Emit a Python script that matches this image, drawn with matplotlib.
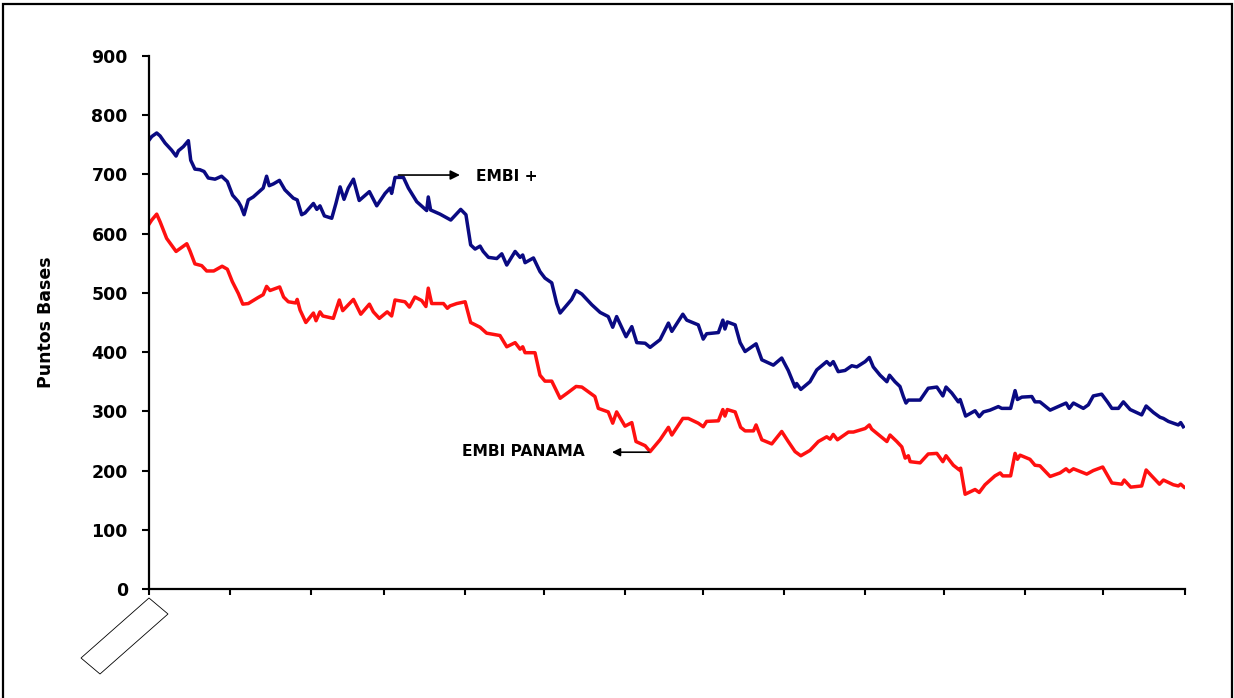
import matplotlib
matplotlib.use("Agg")
import matplotlib.pyplot as plt
import matplotlib.transforms as mtransforms
from matplotlib.patches import Polygon, Rectangle
import pandas as pd

# ---------------- data (days since 2002-12-01, spread in basis points) -------------
embi_days = [0, 1.2, 3.1, 4.4, 6.3, 8.8, 10.5, 11.4, 13.3, 15.2, 16.1, 17.7, 19.6, 21.2, 22.8,
             25.4, 27.9, 30.1, 32.1, 34.3, 35.3, 36.5, 37.5, 38.1, 40.0, 43.8, 45.1, 46.1, 47.7,
             50.0, 52.1, 55.3, 56.8, 58.5, 59.8, 63.0, 64.3, 65.5, 67.2, 70.0, 71.6, 73.2, 74.7,
             76.3, 78.3, 80.5, 84.4, 87.2, 90.4, 92.3, 92.9, 94.2, 97.4, 99.3, 102.5, 106.3,
             106.9, 107.8, 111.4, 115.5, 119.3, 121.3, 123.1, 124.8, 126.7, 127.9, 129.9, 133.1,
             135.0, 136.9, 140.1, 142.0, 143.0, 143.9, 147.1, 149.6, 151.5, 154.1, 156.0, 157.3,
             159.2, 161.7, 163.4, 165.6, 169.4, 172.6, 175.7, 177.4, 178.9, 182.5, 184.7, 186.6,
             189.8, 191.7, 195.5, 198.7, 200.0, 204.2, 205.7, 210.1, 212.0, 213.3, 217.8, 219.5,
             220.3, 221.2, 224.2, 226.1, 228.0, 232.2, 234.4, 238.8, 242.0, 244.5, 247.1, 247.7,
             249.3, 252.8, 255.4, 259.2, 260.5, 261.7, 263.6, 266.2, 268.8, 270.7, 273.9, 275.5,
             277.0, 279.6, 282.2, 283.2, 285.3, 287.2, 288.5, 289.5, 290.4, 294.9, 298.0, 301.3,
             303.6, 304.8, 307.0, 309.5, 310.2, 312.3, 315.9, 317.5, 319.1, 321.6, 324.8, 326.1,
             329.5, 331.2, 332.1, 333.8, 337.6, 338.8, 340.7, 344.6, 347.7, 350.7, 351.9, 353.5,
             357.3, 359.2, 361.1, 364.3, 366.5, 368.2, 370.7, 372.6, 375.2, 379.6, 381.3, 384.1,
             386.6, 387.9, 389.8, 393.6, 394.5, 395.5]
embi_vals = [757, 764, 770, 765, 753, 741, 731, 740, 747, 757, 724, 709, 708, 705, 694,
             692, 697, 688, 665, 654, 646, 632, 648, 657, 662, 677, 697, 681, 684,
             690, 674, 660, 657, 632, 635, 651, 641, 647, 630, 626, 651, 679, 658,
             677, 692, 656, 671, 647, 668, 677, 668, 695, 695, 677, 654, 639,
             662, 640, 633, 623, 641, 632, 581, 574, 579, 570, 560, 558,
             566, 547, 570, 560, 564, 551, 559, 536, 525, 517, 482, 466,
             476, 489, 504, 498, 480, 467, 460, 442, 460, 426, 443, 416,
             415, 408, 421, 449, 435, 464, 454, 446, 422, 431, 433, 454,
             439, 451, 446, 416, 401, 414, 387, 378, 390, 369, 341, 347,
             337, 350, 370, 384, 378, 384, 367, 369, 377, 375, 384, 391,
             375, 361, 350, 361, 350, 342, 325, 314, 319, 319, 339, 341,
             326, 341, 331, 316, 320, 292, 301, 291, 299, 302, 308, 305,
             305, 335, 320, 324, 325, 316, 316, 302, 308, 314, 305, 314,
             305, 311, 326, 329, 316, 305, 305, 316, 303, 294, 309, 298,
             290, 288, 283, 277, 281, 274]

panama_days = [0, 1.2, 3.1, 4.4, 6.9, 10.5, 14.6, 15.8, 17.7, 20.3, 22.2, 24.9, 28.1, 30.1,
               32.0, 34.3, 36.0, 38.1, 41.8, 43.8, 45.1, 46.4, 50.1, 51.6, 53.4, 56.2, 56.8,
               57.9, 60.1, 63.0, 64.0, 65.5, 66.6, 70.6, 72.9, 74.2, 78.3, 81.1, 84.4, 85.9,
               88.2, 91.2, 92.9, 94.2, 98.0, 99.7, 101.8, 104.4, 106.0, 106.9, 108.2, 112.7,
               114.2, 115.2, 117.8, 121.0, 123.1, 126.7, 129.2, 134.3, 136.9, 140.1, 142.0,
               143.0, 143.9, 147.7, 149.6, 151.5, 154.1, 157.3, 160.4, 163.4, 165.6, 170.6,
               171.9, 175.7, 177.4, 178.9, 182.1, 184.7, 186.3, 189.8, 191.7, 195.5, 198.7,
               200.0, 204.2, 206.3, 210.1, 212.0, 213.3, 217.8, 219.5, 220.3, 221.2, 224.2,
               226.3, 228.0, 231.2, 232.2, 234.4, 238.2, 242.0, 244.5, 247.1, 249.3, 252.8,
               254.1, 256.0, 259.2, 260.5, 261.7, 263.3, 267.5, 269.4, 273.9, 275.5, 276.4,
               282.2, 283.4, 286.0, 287.9, 289.2, 290.4, 291.1, 294.9, 298.0, 301.3, 303.6,
               304.8, 307.6, 309.9, 310.4, 312.1, 315.9, 317.5, 319.7, 323.5, 325.5, 326.5,
               329.5, 331.2, 332.1, 333.1, 336.9, 338.8, 340.7, 344.6, 348.4, 350.7, 351.9,
               353.5, 358.6, 361.1, 364.7, 368.2, 372.0, 372.9, 375.4, 379.6, 381.3, 383.4,
               386.4, 387.9, 391.7, 393.6, 394.5, 395.8]
panama_vals = [615, 623, 633, 620, 592, 570, 583, 571, 549, 546, 537, 537, 545, 540,
               519, 499, 481, 482, 492, 497, 511, 504, 510, 493, 485, 483, 489,
               471, 450, 466, 453, 468, 461, 457, 488, 470, 489, 464, 481, 468,
               457, 468, 461, 488, 485, 476, 493, 487, 477, 508, 482, 482,
               474, 478, 482, 485, 450, 442, 432, 428, 409, 416, 405,
               409, 399, 399, 361, 351, 351, 322, 332, 342, 341, 325,
               305, 299, 280, 299, 275, 281, 249, 242, 232, 252, 273,
               260, 288, 288, 280, 274, 283, 284, 303, 292, 303, 299,
               273, 267, 267, 277, 252, 245, 266, 249, 232, 225, 234,
               240, 249, 257, 253, 261, 252, 265, 265, 271, 277, 270,
               249, 260, 249, 240, 221, 225, 215, 213, 228, 229, 215,
               225, 209, 201, 204, 160, 168, 163, 176, 191, 196, 191,
               191, 229, 219, 226, 219, 209, 208, 190, 196, 203, 198,
               203, 194, 200, 206, 179, 177, 184, 172, 174, 201, 191,
               177, 184, 176, 174, 177, 172]

start_date = "2002-12-01"
y_ticks = [0, 100, 200, 300, 400, 500, 600, 700, 800, 900]
y_label = "Puntos Bases"
label_embi = "EMBI +"
label_panama = "EMBI PANAMA"

# ---------------- figure ----------------
W, H, DPI = 1234, 698, 100
fig = plt.figure(figsize=(W / DPI, H / DPI), dpi=DPI)
fig.patch.set_facecolor("white")

ax = fig.add_axes([148.6 / W, 1 - 589 / H, (1184.6 - 148.6) / W, (589 - 56) / H])

ax.plot(embi_days, embi_vals, color="#0a0a82", lw=2.5, solid_joinstyle="round")
ax.plot(panama_days, panama_vals, color="#ff1010", lw=2.5, solid_joinstyle="round")

month_starts = pd.date_range(start_date, periods=14, freq="MS")
xt = [(d - pd.Timestamp(start_date)).days for d in month_starts]
ax.set_xlim(xt[0], xt[-1])
ax.set_ylim(0, 900)
ax.set_xticks(xt)
ax.set_xticklabels([""] * len(xt))
ax.set_yticks(y_ticks)
ax.set_yticklabels([str(v) for v in y_ticks], fontsize=12.5, fontweight="bold",
                   family="DejaVu Sans")

for s in ["top", "right"]:
    ax.spines[s].set_visible(False)
for s in ["left", "bottom"]:
    ax.spines[s].set_linewidth(1.6)
ax.tick_params(axis="y", direction="out", length=5, width=1.5, pad=10)
ax.tick_params(axis="x", direction="out", length=4, width=1.5)

ax.set_ylabel(y_label, fontsize=12.5, fontweight="bold", family="DejaVu Sans", labelpad=26)

# annotations
ax.annotate("", xy=(119, 699), xytext=(95.5, 699),
            arrowprops=dict(arrowstyle="-|>", color="black", lw=1.2, mutation_scale=14,
                            shrinkA=0, shrinkB=0))
ax.text(125.2, 697, label_embi, fontsize=11.2, fontweight="bold", family="DejaVu Sans",
        ha="left", va="center")
ax.annotate("", xy=(177.1, 231), xytext=(191.3, 231),
            arrowprops=dict(arrowstyle="-|>", color="black", lw=1.2, mutation_scale=12,
                            shrinkA=0, shrinkB=0))
ax.text(166.8, 232, label_panama, fontsize=11.2, fontweight="bold", family="DejaVu Sans",
        ha="right", va="center")

# empty rotated label box under the first tick
box = Polygon([(0.4, -9), (19.4, -25), (-48.6, -85), (-67.6, -69)], closed=True,
              facecolor="white", edgecolor="black", lw=0.6,
              transform=mtransforms.Affine2D() + mtransforms.ScaledTranslation(0, 0, ax.transAxes),
              clip_on=False)
ax.add_artist(box)

# outer frame
frame = Rectangle((3 / W, -0.02), (1231.5 - 3) / W, 1.02 - 4 / H, transform=fig.transFigure,
                  fill=False, edgecolor="black", lw=1.6, clip_on=False)
fig.add_artist(frame)

fig.savefig("out.png", dpi=DPI)
